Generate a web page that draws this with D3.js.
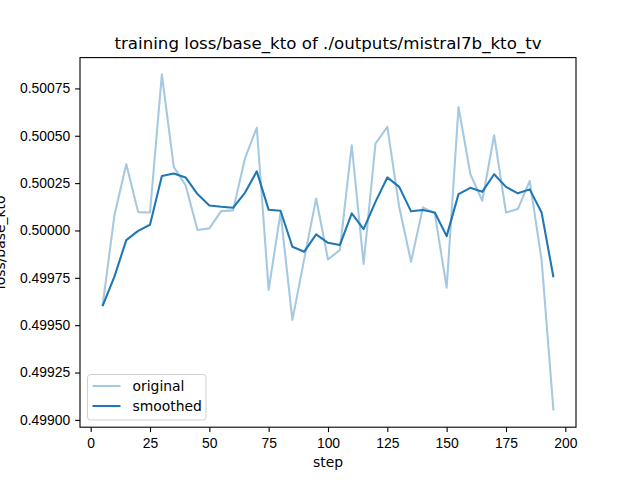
<!DOCTYPE html>
<html lang="en">
<head>
  <meta charset="UTF-8">
  <title>training loss/base_kto</title>
  <style>
    body { margin: 0; padding: 0; background: #fff; }
    svg { display: block; font-family: "DejaVu Sans", sans-serif; }
    .tick text { font-size: 13.9px; fill: #000; }
    .tick line { stroke: #000; stroke-width: 1.1px; }
    .domain { display: none; }
  </style>
</head>
<body>
  <div id="chart"></div>
  <script src="https://d3js.org/d3.v7.min.js"></script>
  <script>
    var steps = [5, 10, 15, 20, 25, 30, 35, 40, 45, 50, 55, 60, 65, 70, 75, 80, 85, 90, 95, 100,
                 105, 110, 115, 120, 125, 130, 135, 140, 145, 150, 155, 160, 165, 170, 175, 180, 185, 190, 195];

    var original = [0.49960, 0.50008, 0.50035, 0.500097, 0.500095, 0.500824, 0.500336, 0.500239, 0.500002, 0.500011,
                    0.500102, 0.500106, 0.50038, 0.500543, 0.499686, 0.500095, 0.499528, 0.49985, 0.500169, 0.499847,
                    0.499897, 0.50045, 0.499823, 0.500459, 0.500547, 0.500125, 0.499835, 0.500122, 0.50009, 0.499698,
                    0.500652, 0.500297, 0.500157, 0.500503, 0.500095, 0.500113, 0.500262, 0.499844, 0.49905];

    var smoothed = [0.49960, 0.499756, 0.499949, 0.499998, 0.50003, 0.500287, 0.500301, 0.50028, 0.500192, 0.500132,
                    0.500125, 0.50012, 0.500199, 0.500312, 0.500109, 0.500104, 0.499914, 0.499888, 0.499979, 0.499935,
                    0.499923, 0.50009, 0.500007, 0.500151, 0.50028, 0.50023, 0.500101, 0.500108, 0.500095, 0.49997,
                    0.500192, 0.500225, 0.500204, 0.500297, 0.50023, 0.500196, 0.500217, 0.500095, 0.499753];

    var xTicks = [0, 25, 50, 75, 100, 125, 150, 175, 200];
    var yTicks = [0.49900, 0.49925, 0.49950, 0.49975, 0.50000, 0.50025, 0.50050, 0.50075];

    var width = 640, height = 480;
    var margin = { left: 80, right: 64, top: 57.6, bottom: 52.8 };
    var plotW = width - margin.left - margin.right;
    var plotH = height - margin.top - margin.bottom;

    var svg = d3.select("#chart").append("svg")
      .attr("width", width)
      .attr("height", height);

    // matplotlib-style 5% margins around the data
    var xExt = d3.extent(steps);
    var xPad = (xExt[1] - xExt[0]) * 0.05;
    var yExt = d3.extent(original.concat(smoothed));
    var yPad = (yExt[1] - yExt[0]) * 0.05;

    var x = d3.scaleLinear().domain([xExt[0] - xPad, xExt[1] + xPad]).range([0, plotW]);
    var y = d3.scaleLinear().domain([yExt[0] - yPad, yExt[1] + yPad]).range([plotH, 0]);

    var g = svg.append("g")
      .attr("transform", "translate(" + margin.left + "," + margin.top + ")");

    var line = d3.line()
      .x(function(d, i) { return x(steps[i]); })
      .y(function(d) { return y(d); });

    g.append("path")
      .datum(original)
      .attr("fill", "none")
      .attr("stroke", "#1f77b4")
      .attr("stroke-opacity", 0.4)
      .attr("stroke-width", 2.08)
      .attr("stroke-linejoin", "round")
      .attr("d", line);

    g.append("path")
      .datum(smoothed)
      .attr("fill", "none")
      .attr("stroke", "#1f77b4")
      .attr("stroke-width", 2.08)
      .attr("stroke-linejoin", "round")
      .attr("d", line);

    // axes
    var xAxis = g.append("g")
      .attr("transform", "translate(0," + plotH + ")")
      .call(d3.axisBottom(x).tickValues(xTicks).tickSize(4.9).tickPadding(4.9).tickFormat(d3.format("d")));
    xAxis.selectAll("text").attr("dy", "0.76em");

    g.append("g")
      .call(d3.axisLeft(y).tickValues(yTicks).tickSize(4.9).tickPadding(4.9).tickFormat(d3.format(".5f")));

    // frame
    g.append("rect")
      .attr("width", plotW)
      .attr("height", plotH)
      .attr("fill", "none")
      .attr("stroke", "#000")
      .attr("stroke-width", 1.1);

    // title and labels
    svg.append("text")
      .attr("x", margin.left + plotW / 2)
      .attr("y", 49.3)
      .attr("text-anchor", "middle")
      .attr("font-size", "16.67px")
      .text("training loss/base_kto of ./outputs/mistral7b_kto_tv");

    svg.append("text")
      .attr("x", margin.left + plotW / 2)
      .attr("y", 467)
      .attr("text-anchor", "middle")
      .attr("font-size", "13.9px")
      .text("step");

    svg.append("text")
      .attr("transform", "translate(5," + (margin.top + plotH / 2) + ")rotate(-90)")
      .attr("text-anchor", "middle")
      .attr("font-size", "13.9px")
      .text("loss/base_kto");

    // legend
    var legend = svg.append("g").attr("transform", "translate(87.5,374.5)");
    legend.append("rect")
      .attr("width", 118.5)
      .attr("height", 45.5)
      .attr("rx", 3)
      .attr("fill", "#fff")
      .attr("fill-opacity", 0.8)
      .attr("stroke", "#d0d0d0")
      .attr("stroke-width", 1);

    var items = [
      { name: "original", opacity: 0.4 },
      { name: "smoothed", opacity: 1 }
    ];
    items.forEach(function(it, i) {
      var yy = 11.5 + i * 20;
      legend.append("line")
        .attr("x1", 5).attr("x2", 33)
        .attr("y1", yy).attr("y2", yy)
        .attr("stroke", "#1f77b4")
        .attr("stroke-opacity", it.opacity)
        .attr("stroke-width", 2.08);
      legend.append("text")
        .attr("x", 45)
        .attr("y", yy)
        .attr("dy", "0.36em")
        .attr("font-size", "13.9px")
        .text(it.name);
    });
  </script>
</body>
</html>
